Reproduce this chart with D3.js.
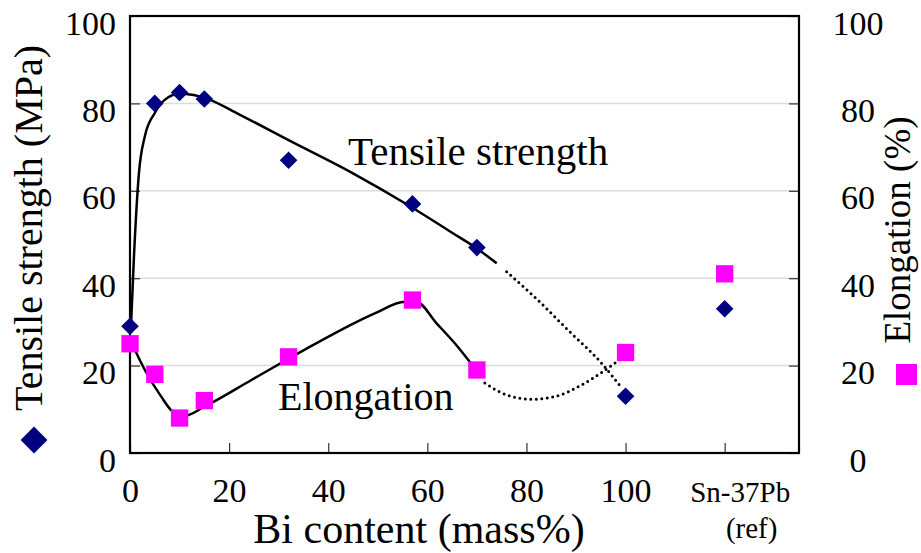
<!DOCTYPE html>
<html>
<head>
<meta charset="utf-8">
<script src="https://cdn.jsdelivr.net/npm/d3@7"></script>
<style>
  body { margin: 0; background: #fff; }
  svg { display: block; font-family: "Liberation Serif", serif; }
</style>
</head>
<body>
<svg id="chart" width="921" height="553"></svg>
<script>
// measured data (Bi content in mass%, Sn-37Pb reference placed at 120)
var biContent  = [0, 5, 10, 15, 32, 57, 70, 100];
var tensile    = [29, 80, 82.5, 81, 67, 57, 47, 13];
var elongation = [25, 18, 8, 12, 22, 35, 19, 23];
var refX = 120, refTensile = 33, refElongation = 41;

var xTicks = [0, 20, 40, 60, 80, 100, 120];
var xTickLabels = ['0', '20', '40', '60', '80', '100', 'Sn-37Pb'];
var yTicks = [0, 20, 40, 60, 80, 100];

// hand drawn trend curves [x, y]
var tensileFit = [[0.2, 29], [0.8, 45], [1.8, 64], [3, 72.5], [5, 77.8], [7, 80.8], [10, 82.2],
  [12.5, 82], [15.5, 81.1], [22, 77.5], [32, 71.6], [45, 64], [56, 56.8], [65, 50.4], [70, 46.8], [74, 43.4]];
var tensileDotted = [[76, 41.5], [82.3, 35], [88.5, 28], [94.8, 21], [99.3, 14.8]];
var elongFit = [[0.4, 25], [3, 19], [6.3, 12.9], [8.5, 9.6], [11, 8.5], [15, 10.6], [24.5, 16.7],
  [35, 23.5], [44, 29], [49.5, 32], [55.5, 34.6], [57.7, 34.6], [62, 29.5], [66, 24.5], [69.5, 19.5]];
var elongDotted = [[71.6, 16], [76, 13.3], [81, 12.3], [86, 13], [91, 15.5], [95, 18.3], [99, 21.5]];

var plotLeft = 130, plotRight = 799, plotTop = 16, plotBottom = 453;
var serif = '"Liberation Serif", serif';

var svg = d3.select('svg#chart');

var x = d3.scaleLinear().domain([0, 135]).range([plotLeft, plotRight]);
var y = d3.scaleLinear().domain([0, 100]).range([plotBottom, plotTop]);   // both axes 0-100

// gridlines
svg.append('g')
	.selectAll('line')
	.data([20, 40, 60, 80])
	.enter()
	.append('line')
	.attr('x1', plotLeft).attr('x2', plotRight)
	.attr('y1', function(d) { return y(d); })
	.attr('y2', function(d) { return y(d); })
	.style('stroke', '#dcdcdc')
	.style('stroke-width', 1.5);

// axes (ticks point inwards)
var tickFont = 34;

var xAxis = svg.append('g')
	.attr('transform', 'translate(0,' + plotBottom + ')')
	.call(d3.axisBottom(x).tickValues(xTicks)
		.tickFormat(function(d, i) { return xTickLabels[i]; })
		.tickSizeInner(-10).tickSizeOuter(0));

var yAxisL = svg.append('g')
	.attr('transform', 'translate(' + plotLeft + ',0)')
	.call(d3.axisLeft(y).tickValues(yTicks).tickSizeInner(-10).tickSizeOuter(0).tickPadding(14));

var yAxisR = svg.append('g')
	.attr('transform', 'translate(' + plotRight + ',0)')
	.call(d3.axisRight(y).tickValues(yTicks).tickSizeInner(-10).tickSizeOuter(0));

// second line under the reference tick
xAxis.append('text')
	.attr('class', 'ref')
	.attr('x', x(refX) + 27).attr('y', 85)
	.attr('text-anchor', 'middle')
	.text('(ref)');

[xAxis, yAxisL, yAxisR].forEach(function(a) {
	a.select('.domain').remove();
	a.selectAll('line').style('stroke', '#333').style('stroke-width', 1.2);
	a.selectAll('text').style('font-family', serif).style('font-size', tickFont + 'px').style('fill', '#000');
});
yAxisL.selectAll('text').attr('dy', '0.53em');
yAxisR.selectAll('text').attr('dy', '0.53em').attr('text-anchor', 'middle').attr('x', 59);
xAxis.selectAll('.tick text').attr('y', 49).attr('dy', 0);
xAxis.selectAll('.tick text')
	.filter(function(d) { return d === refX; })
	.attr('dx', 15)
	.style('font-size', '29px');
xAxis.select('text.ref').style('font-size', '29px');

// frame
svg.append('rect')
	.attr('x', plotLeft).attr('y', plotTop)
	.attr('width', plotRight - plotLeft).attr('height', plotBottom - plotTop)
	.style('fill', 'none').style('stroke', '#000').style('stroke-width', 2.2);

// trend curves
var line = d3.line()
	.x(function(d) { return x(d[0]); })
	.y(function(d) { return y(d[1]); })
	.curve(d3.curveMonotoneX);

svg.append('path').datum(tensileFit).attr('d', line)
	.style('fill', 'none').style('stroke', '#000').style('stroke-width', 2.5);
svg.append('path').datum(elongFit).attr('d', line)
	.style('fill', 'none').style('stroke', '#000').style('stroke-width', 2.5);
svg.append('path').datum(tensileDotted).attr('d', line)
	.style('fill', 'none').style('stroke', '#000').style('stroke-width', 3)
	.style('stroke-dasharray', '0,5.5').style('stroke-linecap', 'round');
svg.append('path').datum(elongDotted).attr('d', line)
	.style('fill', 'none').style('stroke', '#000').style('stroke-width', 3)
	.style('stroke-dasharray', '0,5.5').style('stroke-linecap', 'round');

// markers
var diamond = d3.symbol().type(d3.symbolSquare).size(155);
var square = d3.symbol().type(d3.symbolSquare).size(300);

var elongPts = biContent.map(function(d, i) { return [d, elongation[i]]; }).concat([[refX, refElongation]]);
var tensilePts = biContent.map(function(d, i) { return [d, tensile[i]]; }).concat([[refX, refTensile]]);

svg.append('g').selectAll('path')
	.data(elongPts)
	.enter()
	.append('path')
	.attr('d', square)
	.attr('transform', function(d) { return 'translate(' + x(d[0]) + ',' + y(d[1]) + ')'; })
	.style('fill', '#ff00ff');

svg.append('g').selectAll('path')
	.data(tensilePts)
	.enter()
	.append('path')
	.attr('d', diamond)
	.attr('transform', function(d) { return 'translate(' + x(d[0]) + ',' + y(d[1]) + ') rotate(45)'; })
	.style('fill', '#000080');

// in-plot labels
svg.append('text')
	.attr('x', 348).attr('y', 165)
	.style('font-size', '41px')
	.text('Tensile strength');

svg.append('text')
	.attr('x', 278).attr('y', 410)
	.style('font-size', '40px')
	.text('Elongation');

// axis titles
svg.append('text')
	.attr('transform', 'translate(42,228) rotate(-90)')
	.attr('text-anchor', 'middle')
	.style('font-size', '40px')
	.text('Tensile strength (MPa)');

svg.append('path')
	.attr('d', d3.symbol().type(d3.symbolSquare).size(360))
	.attr('transform', 'translate(34,440) rotate(45)')
	.style('fill', '#000080');

svg.append('text')
	.attr('transform', 'translate(910,230) rotate(-90)')
	.attr('text-anchor', 'middle')
	.style('font-size', '37px')
	.text('Elongation (%)');

svg.append('rect')
	.attr('x', 896).attr('y', 364).attr('width', 21).attr('height', 21)
	.style('fill', '#ff00ff');

svg.append('text')
	.attr('x', 419).attr('y', 543)
	.attr('text-anchor', 'middle')
	.style('font-size', '42px')
	.text('Bi content (mass%)');
</script>
</body>
</html>
